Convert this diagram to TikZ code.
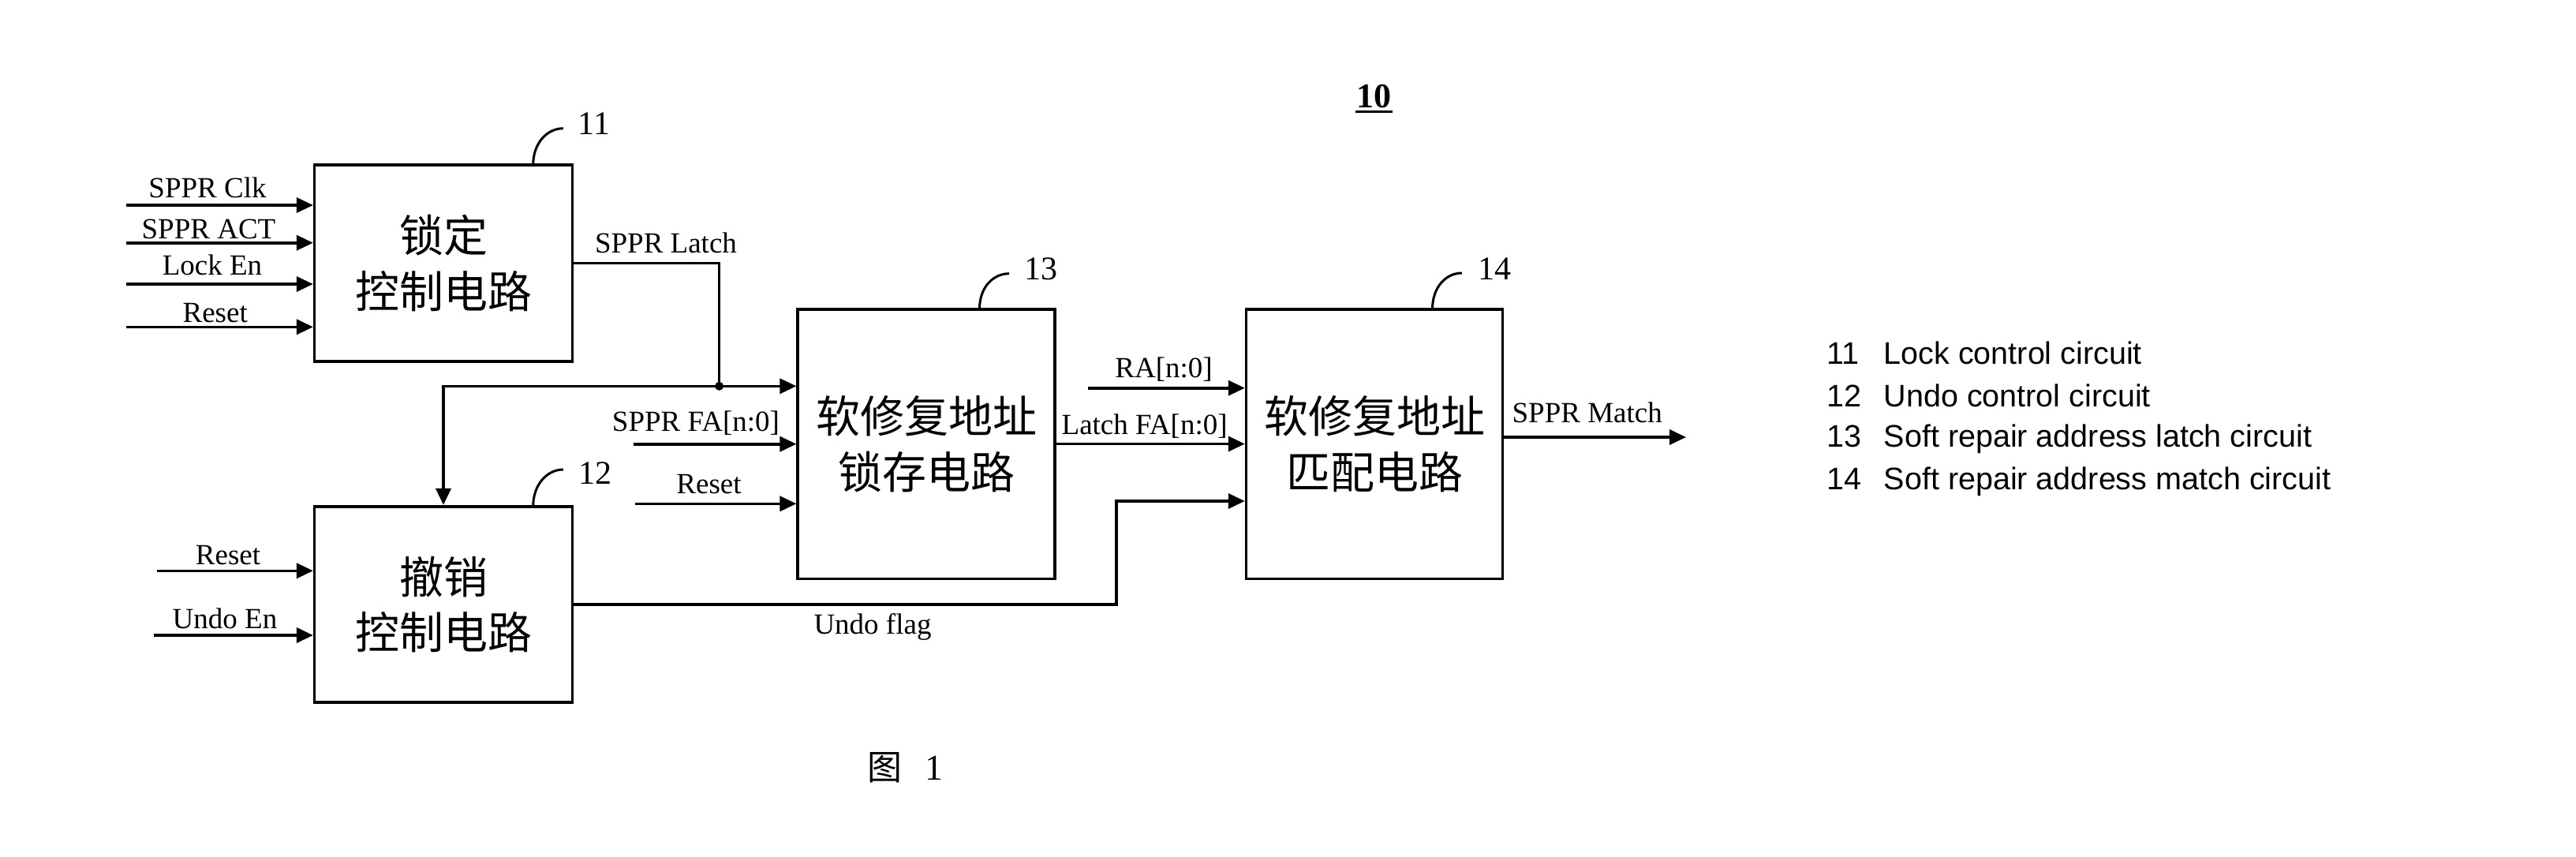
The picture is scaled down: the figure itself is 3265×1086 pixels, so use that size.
\documentclass[tikz,border=0pt]{standalone}
\usepackage{fontspec}
\setmainfont{Liberation Serif}
\newfontfamily\cjk{Noto Sans CJK SC}
\newfontfamily\arialf{Liberation Sans}
\usetikzlibrary{arrows.meta,calc}
\begin{document}
\begin{tikzpicture}[x=1pt,y=-1pt,
  line width=3.6pt,
  arr/.style={-{Triangle[length=21pt,width=19pt]}},
  blk/.style={draw,rectangle,inner sep=0pt,align=center,
    font=\cjk\fontsize{56}{70.5}\selectfont},
  sig/.style={anchor=base,inner sep=0pt,font=\fontsize{37}{44}\selectfont},
  num/.style={inner sep=0pt,font=\fontsize{42}{48}\selectfont},
  leg/.style={anchor=base west,inner sep=0pt,font=\arialf\fontsize{39.5}{44}\selectfont},
  leader/.style={line width=3pt}]
\useasboundingbox (0,0) rectangle (3265,1086);
% blocks
\node[blk,minimum width=326.7pt,minimum height=248.7pt] (b11) at (562,333.4) {锁定\\控制电路};
\node[blk,minimum width=326.7pt,minimum height=248.3pt] (b12) at (562,765.9) {撤销\\控制电路};
\node[blk,minimum width=325.8pt,minimum height=341.6pt] (b13) at (1174.1,562.5) {软修复地址\\锁存电路};
\node[blk,minimum width=324.9pt,minimum height=341.6pt] (b14) at (1742,562.5) {软修复地址\\匹配电路};
% inputs of 11
\coordinate (a1) at (160.4,260);
\coordinate (a2) at (160.4,307.7);
\coordinate (a3) at (160.4,360);
\coordinate (a4) at (160.4,414.3);
\draw[arr] (a1) -- (a1 -| b11.west);
\draw[arr] (a2) -- (a2 -| b11.west);
\draw[arr] (a3) -- (a3 -| b11.west);
\draw[arr] (a4) -- (a4 -| b11.west);
\node[sig] (l1) at (263,250) {SPPR Clk};
\node[sig] (l2) at (264.5,302.7) {SPPR ACT};
\node[sig] (l3) at (269,348) {Lock En};
\node[sig] (l4) at (272.7,408) {Reset};
% inputs of 12
\coordinate (c1) at (199,723.3);
\coordinate (c2) at (194.8,805);
\draw[arr] (c1) -- (c1 -| b12.west);
\draw[arr] (c2) -- (c2 -| b12.west);
\node[sig] (l5) at (289,715) {Reset};
\node[sig] (l6) at (285,796.7) {Undo En};
% SPPR Latch
\coordinate (j) at (911.6,489.3);
\draw (b11.east) -| (j);
\draw[arr] (j) -- (j -| b13.west);
\draw[arr] (j) -| (b12.north);
\fill (j) circle (5.5pt);
\node[sig] (l7) at (844,320.7) {SPPR Latch};
% inputs of 13
\coordinate (d1) at (802.7,562.7);
\coordinate (d2) at (805,638.3);
\draw[arr] (d1) -- (d1 -| b13.west);
\draw[arr] (d2) -- (d2 -| b13.west);
\node[sig] (l8) at (882,546.7) {SPPR FA[n:0]};
\node[sig] (l9) at (898.5,625) {Reset};
% inputs of 14
\coordinate (e1) at (1379.2,491.7);
\draw[arr] (e1) -- (e1 -| b14.west);
\node[sig] (l10) at (1475,478) {RA[n:0]};
\draw[arr] (b13.east) -- (b14.west);
\node[sig] (l11) at (1450.6,550) {Latch FA[n:0]};
% undo flag
\coordinate (u) at (1414.8,635);
\draw[arr] (b12.east) -| (u) -- (u -| b14.west);
\node[sig] (l12) at (1106,803) {Undo flag};
% output
\coordinate (m) at (2137,554);
\draw[arr] (m -| b14.east) -- (m);
\node[sig] (l13) at (2011.7,535) {SPPR Match};
% leaders and numbers
\coordinate (p11) at (675.7,209);   \coordinate (q11) at (713.8,162.7);
\coordinate (p12) at (675.7,641.7); \coordinate (q12) at (713.8,595);
\coordinate (p13) at (1241.5,391.7);\coordinate (q13) at (1279,346.7);
\coordinate (p14) at (1815.5,391.7);\coordinate (q14) at (1852.8,346);
\draw[leader] (p11) .. controls ($(p11)+(0,-28)$) and ($(q11)+(-20,0)$) .. (q11);
\draw[leader] (p12) .. controls ($(p12)+(0,-28)$) and ($(q12)+(-20,0)$) .. (q12);
\draw[leader] (p13) .. controls ($(p13)+(0,-28)$) and ($(q13)+(-20,0)$) .. (q13);
\draw[leader] (p14) .. controls ($(p14)+(0,-28)$) and ($(q14)+(-20,0)$) .. (q14);
\node[num] (n11) at (753,157) {11};
\node[num] (n12) at (754,600) {12};
\node[num] (n13) at (1319,341) {13};
\node[num] (n14) at (1894,341) {14};
% title 10
\node[anchor=base,inner sep=0pt,font=\bfseries\fontsize{44}{50}\selectfont] (t10) at (1741.6,136.7) {10};
\draw[line width=3pt] ($(t10.base west)+(0,5)$) -- ($(t10.base east)+(0,5)$);
% legend
\node[leg] (g1n) at (2314,461.7) {11};
\node[leg] (g1) at (2386,461.7) {Lock control circuit};
\node[leg] (g2n) at (2314,515) {12};
\node[leg] (g2) at (2386,515) {Undo control circuit};
\node[leg] (g3n) at (2314,566.7) {13};
\node[leg] (g3) at (2386,566.7) {Soft repair address latch circuit};
\node[leg] (g4n) at (2314,620) {14};
\node[leg] (g4) at (2386,620) {Soft repair address match circuit};
% caption
\node[inner sep=0pt,font=\cjk\fontsize{44}{50}\selectfont] (fig) at (1121.5,973) {图};
\node[inner sep=0pt,font=\fontsize{46}{50}\selectfont] (fign) at (1183.5,973) {1};
\end{tikzpicture}
\end{document}
